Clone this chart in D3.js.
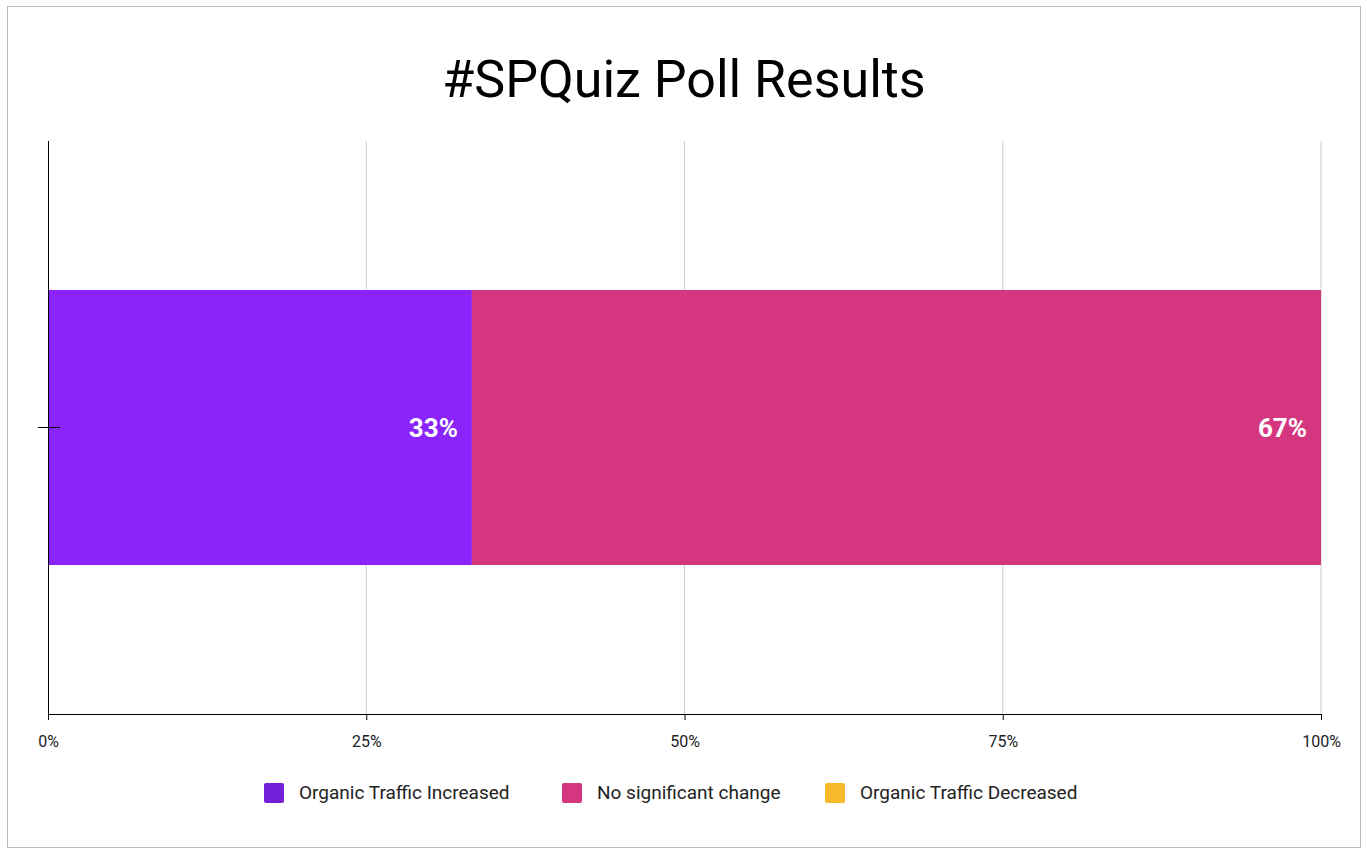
<!DOCTYPE html>
<html><head><meta charset="utf-8">
<script src="https://cdn.jsdelivr.net/npm/d3@7"></script>
<style>body{margin:0;background:#fff}</style>
</head><body><svg></svg>
<script>
const categories = ["Organic Traffic Increased", "No significant change", "Organic Traffic Decreased"];
const values = [33.3, 66.7, 0];
const labels = ["33%", "67%", ""];
const ticks = [0, 25, 50, 75, 100];
const colors = ["#8a24fa", "#d4377f", "#f6b92b"];
const legendColors = ["#7420d8", "#d4377f", "#f6b92b"];

const width = 1367, height = 854;
const svg = d3.select("svg").attr("width", width).attr("height", height)
  .style("font-family", "Roboto, Arial, sans-serif");

svg.append("rect").attr("x", 7.5).attr("y", 6.5).attr("width", 1353).attr("height", 841)
  .attr("fill", "#fff").attr("stroke", "#bbb");

svg.append("text").attr("x", 684).attr("y", 97).attr("text-anchor", "middle")
  .attr("font-size", 52).attr("fill", "#000").text("#SPQuiz Poll Results");

const x = d3.scaleLinear().domain([0, 100]).range([48, 1321]);
const plotTop = 141, plotBottom = 714;
const y = d3.scaleBand().domain(["q"]).range([plotTop, plotBottom]).paddingInner(0.52).paddingOuter(0.26);

// gridlines
svg.append("g").selectAll("line").data(ticks.slice(1)).join("line")
  .attr("x1", d => x(d)).attr("x2", d => x(d)).attr("y1", plotTop).attr("y2", plotBottom)
  .attr("stroke", "#ccc");

// stacked bars
let acc = 0;
const segs = values.map((v, i) => { const s = { i, x0: acc, x1: acc + v }; acc += v; return s; });
svg.append("g").selectAll("rect").data(segs).join("rect")
  .attr("x", d => x(d.x0)).attr("width", d => x(d.x1) - x(d.x0))
  .attr("y", y("q")).attr("height", y.bandwidth())
  .attr("fill", d => colors[d.i]);

svg.append("g").selectAll("text").data(segs.filter(d => labels[d.i])).join("text")
  .attr("x", d => x(d.x1) - 14).attr("y", y("q") + y.bandwidth() / 2 + 9)
  .attr("text-anchor", "end").attr("font-size", 26).attr("font-weight", "bold")
  .attr("fill", "#fff").text(d => labels[d.i]);

// axes
const xAxis = svg.append("g").attr("transform", `translate(0,${plotBottom})`)
  .call(d3.axisBottom(x).tickValues(ticks).tickFormat(d => d + "%").tickSize(6).tickPadding(16));
xAxis.select(".domain").attr("stroke", "#000");
xAxis.selectAll("text").attr("font-size", 16).attr("fill", "#222").style("font-family", "Roboto, Arial, sans-serif");

svg.append("line").attr("x1", 48.5).attr("x2", 48.5).attr("y1", plotTop).attr("y2", plotBottom + 6).attr("stroke", "#000");
svg.append("line").attr("x1", 38).attr("x2", 60).attr("y1", y("q") + y.bandwidth() / 2).attr("y2", y("q") + y.bandwidth() / 2).attr("stroke", "#000");

// legend
const legendX = [264, 562, 825];
const lg = svg.append("g").selectAll("g").data(categories).join("g")
  .attr("transform", (d, i) => `translate(${legendX[i]},783)`);
lg.append("rect").attr("width", 20).attr("height", 20).attr("rx", 2).attr("fill", (d, i) => legendColors[i]);
lg.append("text").attr("x", 35).attr("y", 16).attr("font-size", 19).attr("fill", "#222").text(d => d);
</script></body></html>
